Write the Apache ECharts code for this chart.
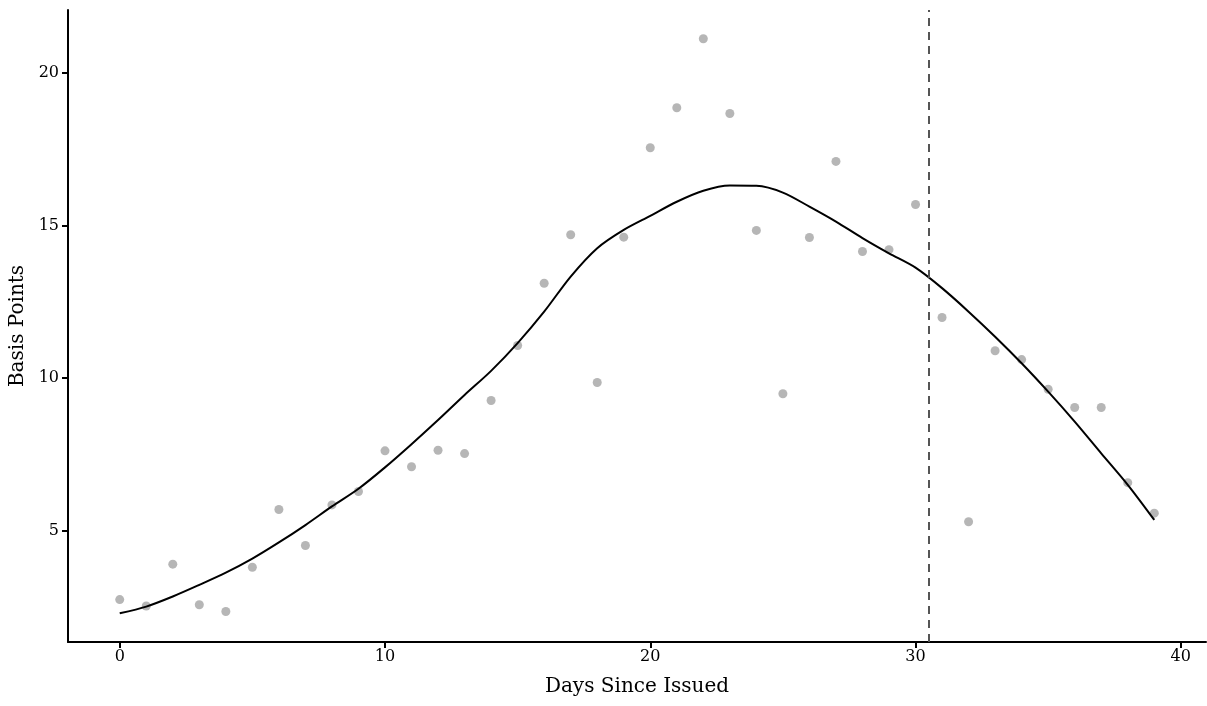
<!DOCTYPE html>
<html>
<head>
<meta charset="utf-8">
<script src="https://cdn.jsdelivr.net/npm/echarts@6/dist/echarts.min.js"></script>
<style>
  html, body { margin: 0; padding: 0; background: #fff; }
  #main { width: 1207px; height: 706px; }
</style>
</head>
<body>
<div id="main"></div>
<script>
"use strict";

// days since issued
const days = [];
for (let i = 0; i <= 39; i++) days.push(i);

// observed basis points (grey dots)
const observed = [
  2.75, 2.54, 3.91, 2.58, 2.36, 3.81, 5.70, 4.52, 5.85, 6.29,
  7.62, 7.10, 7.64, 7.53, 9.27, 11.07, 13.11, 14.70, 9.86, 14.62,
  17.55, 18.86, 21.12, 18.67, 14.84, 9.49, 14.61, 17.10, 14.15, 14.21,
  15.69, 11.99, 5.30, 10.90, 10.61, 9.64, 9.04, 9.04, 6.58, 5.58
];

// smoothed fit (black line)
const fitted = [
  2.30, 2.52, 2.85, 3.23, 3.63, 4.09, 4.62, 5.19, 5.80, 6.38,
  7.08, 7.84, 8.63, 9.45, 10.24, 11.15, 12.18, 13.33, 14.26, 14.86,
  15.32, 15.78, 16.14, 16.31, 16.30, 16.08, 15.62, 15.13, 14.59, 14.09,
  13.62, 12.95, 12.18, 11.36, 10.49, 9.56, 8.58, 7.54, 6.51, 5.36
];

const xTicks = [0, 10, 20, 30, 40];
const yTicks = [5, 10, 15, 20];
const cutoffDay = 30.5;

const font = 'DejaVu Serif';

let myChart = echarts.init(document.getElementById('main'));

let option = {
  animation: false,
  backgroundColor: '#ffffff',
  grid: {
    left: 68,
    right: 1,
    top: 10,
    bottom: 64,
    containLabel: false,
    outerBoundsMode: 'none',
  },
  xAxis: {
    type: 'value',
    min: -1.95,
    max: 40.95,
    name: 'Days Since Issued',
    nameLocation: 'middle',
    nameGap: 35,
    nameTextStyle: { fontFamily: font, fontSize: 20, color: '#000' },
    axisLine: { show: true, onZero: false, lineStyle: { color: '#000', width: 2 } },
    axisTick: { show: true, length: 6, customValues: xTicks, lineStyle: { color: '#000', width: 2 } },
    axisLabel: { customValues: xTicks, fontFamily: font, fontSize: 16, color: '#000', margin: 7 },
    splitLine: { show: false },
  },
  yAxis: {
    type: 'value',
    min: 1.36,
    max: 22.06,
    name: 'Basis Points',
    nameLocation: 'middle',
    nameGap: 40,
    nameTextStyle: { fontFamily: font, fontSize: 20, color: '#000' },
    axisLine: { show: true, onZero: false, lineStyle: { color: '#000', width: 2 } },
    axisTick: { show: true, length: 6, customValues: yTicks, lineStyle: { color: '#000', width: 2 } },
    axisLabel: { customValues: yTicks, fontFamily: font, fontSize: 16, color: '#000', margin: 9 },
    splitLine: { show: false },
  },
  series: [
    {
      name: 'observed',
      type: 'scatter',
      symbolSize: 9,
      itemStyle: { color: '#a4a4a4' },
      data: days.map((d, i) => [d, observed[i]]),
      z: 2,
    },
    {
      name: 'fitted',
      type: 'line',
      smooth: 0.3,
      showSymbol: false,
      lineStyle: { color: '#000', width: 2 },
      data: days.map((d, i) => [d, fitted[i]]),
      z: 3,
      markLine: { // cutoff line
        silent: true,
        symbol: 'none',
        label: { show: false },
        lineStyle: { color: '#555', type: [8, 6], width: 2 },
        data: [{ xAxis: cutoffDay }],
      },
    },
  ],
};

myChart.setOption(option);
</script>
</body>
</html>
